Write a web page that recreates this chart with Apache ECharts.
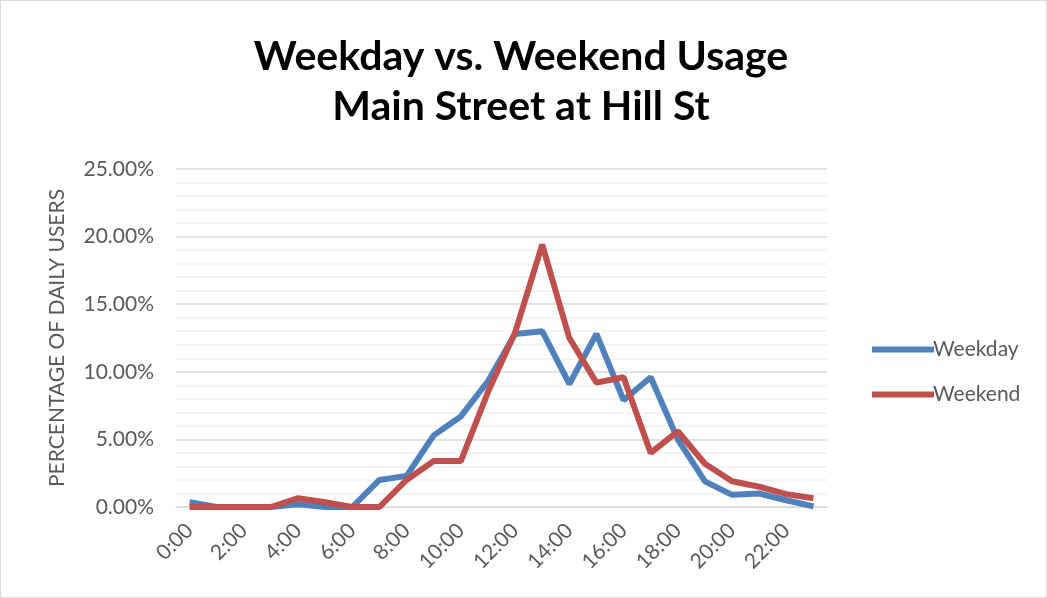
<!DOCTYPE html>
<html>
<head>
<meta charset="UTF-8">
<title>Weekday vs. Weekend Usage</title>
<script src="https://cdn.jsdelivr.net/npm/echarts@6/dist/echarts.min.js"></script>
<style>
  html, body { margin: 0; padding: 0; background: #fff; }
  #main { width: 1045px; height: 596px; border: 1px solid #d9d9d9; }
</style>
</head>
<body>
<div id="main"></div>
<script>
// hours of the day
var hours = ['0:00','1:00','2:00','3:00','4:00','5:00','6:00','7:00','8:00','9:00','10:00','11:00',
  '12:00','13:00','14:00','15:00','16:00','17:00','18:00','19:00','20:00','21:00','22:00','23:00'];
// percentage of daily users
var weekday = [0.35, 0, 0, 0, 0.2, 0, 0, 2.0, 2.3, 5.3, 6.7, 9.3, 12.8, 13.0, 9.1, 12.8, 7.9, 9.6, 5.0, 1.9, 0.9, 1.0, 0.5, 0.05];
var weekend = [0, 0, 0, 0, 0.65, 0.35, 0, 0, 2.0, 3.4, 3.4, 8.5, 12.9, 19.4, 12.5, 9.2, 9.6, 4.0, 5.6, 3.2, 1.9, 1.5, 0.95, 0.65];

var chart = echarts.init(document.getElementById('main'));
var txt = '#595959';
var option = {
  animation: false,
  title: {
    text: 'Weekday vs. Weekend Usage\nMain Street at Hill St',
    left: 515, top: 26, textAlign: 'center',
    textStyle: { fontFamily: 'Lato', fontWeight: 'bold', fontSize: 41, lineHeight: 50, color: '#000' }
  },
  legend: {
    orient: 'vertical',
    left: 866, top: 333,
    itemWidth: 62, itemHeight: 6, itemGap: 24,
    icon: 'rect',
    textStyle: { fontFamily: 'Lato', fontSize: 21, color: txt, padding: [0, 0, 0, -6] },
    data: ['Weekday', 'Weekend']
  },
  grid: { left: 175, right: 219, top: 168, bottom: 90 },
  xAxis: {
    type: 'category',
    data: hours,
    boundaryGap: true,
    axisLine: { lineStyle: { color: '#d9d9d9', width: 1 } },
    axisTick: { show: false },
    axisLabel: { interval: 1, rotate: 45, fontFamily: 'Lato', fontSize: 21, color: txt, margin: 20 }
  },
  yAxis: {
    type: 'value',
    min: 0, max: 25, interval: 5,
    name: 'PERCENTAGE OF DAILY USERS',
    nameLocation: 'middle',
    nameGap: 108,
    nameTextStyle: { fontFamily: 'Lato', fontSize: 21, color: txt },
    axisLine: { show: false },
    axisTick: { show: false },
    axisLabel: {
      fontFamily: 'Lato', fontSize: 21, color: txt, margin: 22,
      formatter: function (v) { return v.toFixed(2) + '%'; }
    },
    splitLine: { lineStyle: { color: '#d9d9d9', width: 1.5 } },
    minorTick: { show: false, splitNumber: 5 },
    minorSplitLine: { show: true, lineStyle: { color: '#f0f0f0', width: 1.5 } }
  },
  series: [
    {
      name: 'Weekday', type: 'line', data: weekday,
      symbol: 'none', lineStyle: { width: 6, color: '#4F81BD' }, itemStyle: { color: '#4F81BD' }
    },
    {
      name: 'Weekend', type: 'line', data: weekend,
      symbol: 'none', lineStyle: { width: 6, color: '#C0504D' }, itemStyle: { color: '#C0504D' }
    }
  ]
};
chart.setOption(option);
</script>
</body>
</html>
